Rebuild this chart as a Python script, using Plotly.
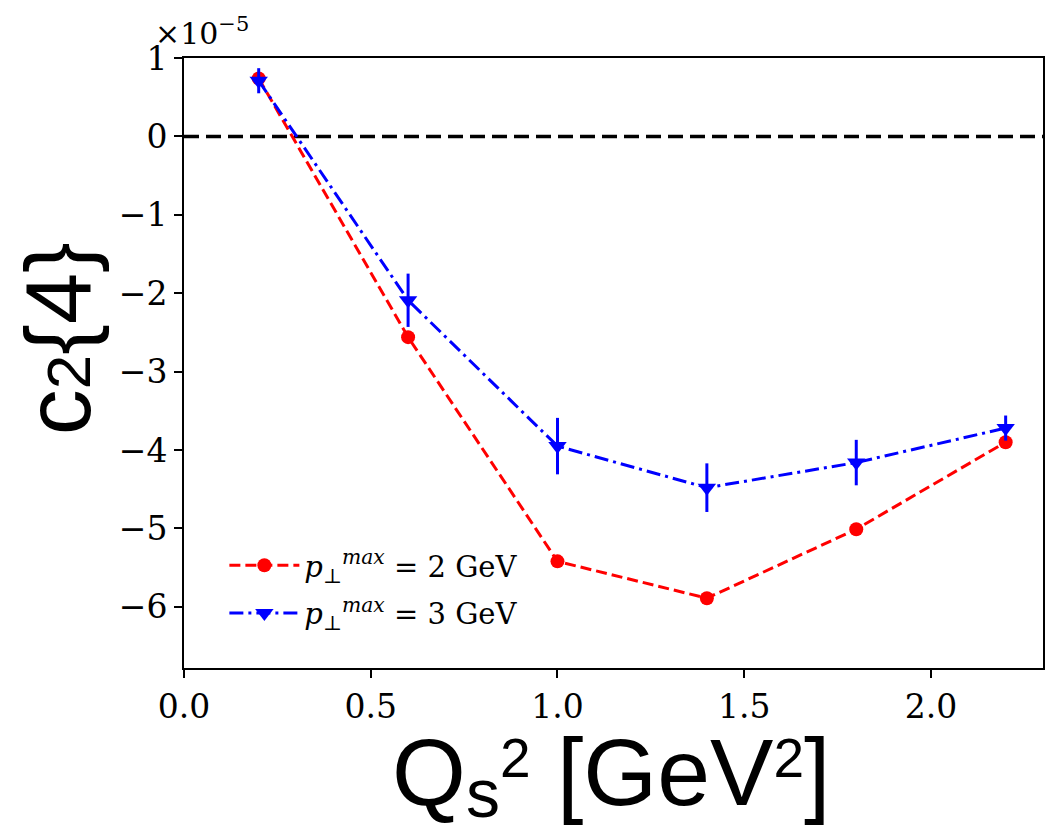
import plotly.graph_objects as go

x_vals = [0.2, 0.6, 1.0, 1.4, 1.8, 2.2]
red_y = [0.74, -2.56, -5.42, -5.89, -5.01, -3.90]
red_err = [0.05, 0.05, 0.05, 0.05, 0.05, 0.05]
blue_y = [0.71, -2.09, -3.95, -4.48, -4.16, -3.72]
blue_err = [0.16, 0.34, 0.36, 0.31, 0.29, 0.16]
x_ticks = [0.0, 0.5, 1.0, 1.5, 2.0]
y_ticks = [-6, -5, -4, -3, -2, -1, 0, 1]

serif = "DejaVu Serif, serif"
sans = "Liberation Sans, Arial, sans-serif"

fig = go.Figure()
fig.add_trace(go.Scatter(
    x=x_vals, y=red_y, mode="lines+markers", legendgroup="a",
    line=dict(color="red", width=3, dash="11px,5px"),
    marker=dict(symbol="circle", size=14, color="red"),
    error_y=dict(type="data", array=red_err, color="red", thickness=3, width=0),
    name="<i>p</i><sub>⊥</sub><sup><i>max</i></sup> = 2 GeV",
))
fig.add_trace(go.Scatter(
    x=x_vals, y=blue_y, mode="lines+markers", legendgroup="b",
    line=dict(color="blue", width=3, dash="14px,5px,3px,5px"),
    marker=dict(symbol="triangle-down", size=16, color="blue"),
    error_y=dict(type="data", array=blue_err, color="blue", thickness=3, width=0),
    name="<i>p</i><sub>⊥</sub><sup><i>max</i></sup> = 3 GeV",
))

fig.add_shape(type="line", xref="paper", yref="y", x0=0, x1=1, y0=0, y1=0,
              line=dict(color="black", width=3.5, dash="15px,7px"), layer="below")

axis_common = dict(showline=True, linecolor="black", linewidth=2, mirror=True,
                   ticks="outside", ticklen=8, tickwidth=2, tickcolor="black",
                   showgrid=False, zeroline=False, automargin=False,
                   tickfont=dict(family=serif, size=33, color="black"))

fig.update_xaxes(range=[0, 2.3], tickvals=x_ticks, tickformat=".1f", **axis_common)
fig.update_yaxes(range=[-6.78, 1.0], tickvals=y_ticks, **axis_common)

fig.add_annotation(text="×10<sup>−5</sup>", xref="paper", yref="paper",
                   x=-0.036, y=1.0, yshift=5, xanchor="left", yanchor="bottom", showarrow=False,
                   font=dict(family=serif, size=30, color="black"))
fig.add_annotation(text="c<span style='font-size:62px'>2</span>{4}", xref="paper", yref="paper",
                   x=-0.147, y=0.54, xanchor="center", yanchor="middle", textangle=-90,
                   showarrow=False, font=dict(family=sans, size=92, color="black"))
sup2 = "<span style='font-size:67px'><sup><span style='font-size:55px'>2</span></sup></span>"
subs = "<span style='font-size:57px'><sub><span style='font-size:68px'>s</span></sub></span>"
fig.add_annotation(text="Q" + subs + sup2 + " [GeV" + sup2 + "]",
                   xref="paper", yref="paper",
                   x=0.497, y=-0.08, xanchor="center", yanchor="top",
                   showarrow=False, font=dict(family=sans, size=95, color="black"))

fig.update_layout(
    width=1045, height=835,
    margin=dict(l=184, r=2, t=58, b=167),
    paper_bgcolor="white", plot_bgcolor="white",
    showlegend=True,
    legend=dict(x=0.047, y=0.21, xanchor="left", yanchor="top",
                bgcolor="rgba(255,255,255,0)", font=dict(family=serif, size=29, color="black"),
                itemwidth=70, traceorder="grouped", tracegroupgap=7),
)

fig.write_html("out.html", post_script="document.body.style.margin='0';",
               config={"displayModeBar": False})
